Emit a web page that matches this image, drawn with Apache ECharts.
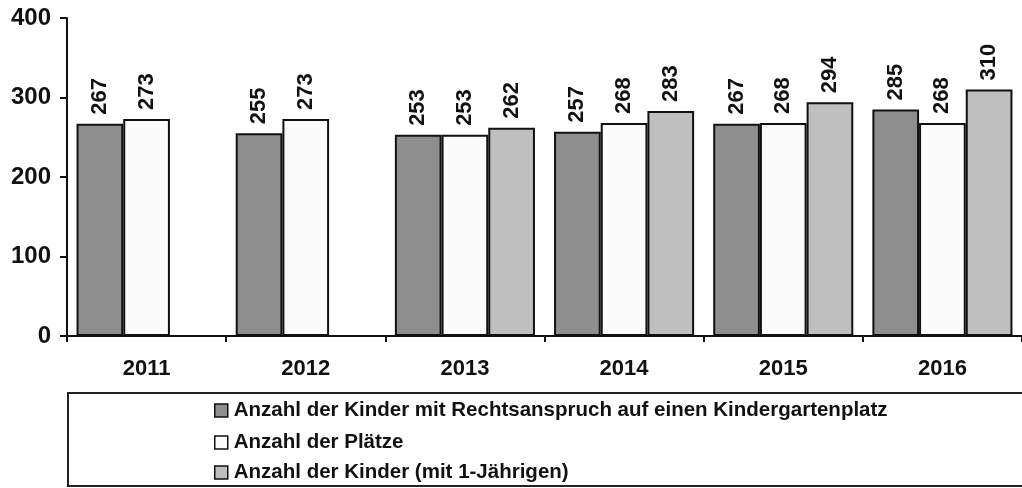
<!DOCTYPE html>
<html>
<head>
<meta charset="utf-8">
<script src="https://cdn.jsdelivr.net/npm/echarts@6/dist/echarts.min.js"></script>
<style>
  html, body { margin: 0; padding: 0; background: #fff; }
  #chart { width: 1022px; height: 488px; }
</style>
</head>
<body>
<div id="chart"></div>
<script>
// chart data
const years = ['2011', '2012', '2013', '2014', '2015', '2016'];
const seriesNames = [
  'Anzahl der Kinder mit Rechtsanspruch auf einen Kindergartenplatz',
  'Anzahl der Plätze',
  'Anzahl der Kinder (mit 1-Jährigen)',
];
const kinderRechtsanspruch = [267, 255, 253, 257, 267, 285];
const plaetze = [273, 273, 253, 268, 268, 268];
const kinderMitEinjaehrigen = [null, null, 262, 283, 294, 310];
const yTicks = [0, 100, 200, 300, 400];

const barColors = ['#8e8e8e', '#fbfbfb', '#bfbfbf'];
const font = 'Liberation Sans, Arial, sans-serif';

const chart = echarts.init(document.getElementById('chart'));

// build bar series from the arrays above
const makeSeries = (name, values, color) => ({
  name: name,
  type: 'bar',
  data: values,
  barGap: 0,
  barCategoryGap: '12%',
  itemStyle: { color: color, borderColor: '#111', borderWidth: 2 },
  label: {
    show: true,
    position: 'top',
    rotate: 90,
    align: 'left',
    verticalAlign: 'middle',
    distance: 9,
    color: '#111',
    fontFamily: font,
    fontWeight: 'bold',
    fontSize: 22,
  },
});

// one legend per row so the rows never wrap into columns
const legendRowTops = [400, 432, 462];
const makeLegend = (name, top) => ({
  orient: 'vertical',
  left: 214,
  top: top,
  padding: 0,
  itemWidth: 13,
  itemHeight: 13,
  icon: 'rect',
  itemStyle: { borderColor: '#111', borderWidth: 1.5 },
  textStyle: {
    color: '#111',
    fontSize: 20.5,
    fontWeight: 'bold',
    fontFamily: font,
    padding: [0, 0, 0, 1],
  },
  data: [name],
});

const option = {
  animation: false,
  textStyle: { fontFamily: font },
  grid: { left: 67, right: -7, top: 18, bottom: 152 },
  xAxis: {
    type: 'category',
    data: years,
    axisLine: { lineStyle: { color: '#111', width: 2 } },
    axisTick: { show: true, length: 6, interval: 0, lineStyle: { color: '#111', width: 2 } },
    axisLabel: { color: '#111', fontSize: 22, fontWeight: 'bold', margin: 22 },
  },
  yAxis: {
    type: 'value',
    min: yTicks[0],
    max: yTicks[yTicks.length - 1],
    interval: 100,
    splitLine: { show: false },
    axisLine: { show: true, lineStyle: { color: '#111', width: 2 } },
    axisTick: { show: true, length: 7, lineStyle: { color: '#111', width: 2 } },
    axisLabel: { color: '#111', fontSize: 24, fontWeight: 'bold', margin: 16 },
  },
  legend: seriesNames.map((name, i) => makeLegend(name, legendRowTops[i])),
  graphic: [{
    type: 'rect',
    shape: { x: 68, y: 393, width: 960, height: 93 },
    style: { fill: 'none', stroke: '#222', lineWidth: 2 },
    z: -1,
  }],
  series: [
    makeSeries(seriesNames[0], kinderRechtsanspruch, barColors[0]),
    makeSeries(seriesNames[1], plaetze, barColors[1]),
    makeSeries(seriesNames[2], kinderMitEinjaehrigen, barColors[2]),
  ],
};

chart.setOption(option);
</script>
</body>
</html>
